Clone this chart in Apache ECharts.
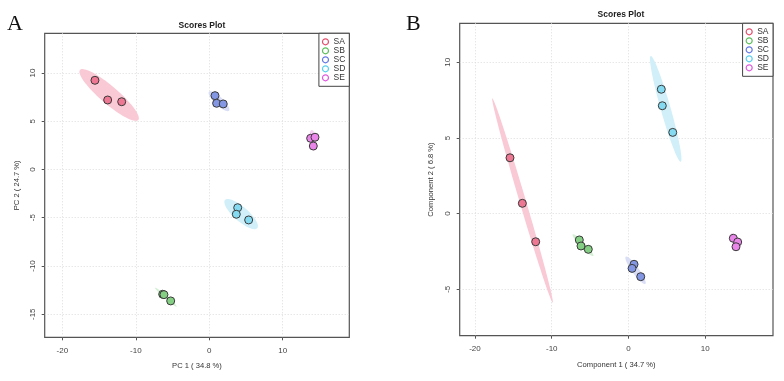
<!DOCTYPE html>
<html>
<head>
<meta charset="utf-8">
<script src="https://cdn.jsdelivr.net/npm/echarts@6/dist/echarts.min.js"></script>
<style>
  html, body { margin: 0; padding: 0; background: #fff; }
  #chart { width: 784px; height: 381px; }
</style>
</head>
<body>
<div id="chart"></div>
<script>
const groups = ['SA', 'SB', 'SC', 'SD', 'SE']

// panel A: PCA scores, [PC1, PC2] per sample, one list per group
const pcaScores = [
  [[-15.56, 9.24], [-13.83, 7.20], [-11.92, 7.02]],
  [[-6.34, -12.93], [-6.17, -12.97], [-5.25, -13.62]],
  [[0.78, 7.65], [1.00, 6.86], [1.90, 6.79]],
  [[3.87, -3.96], [3.68, -4.64], [5.36, -5.23]],
  [[13.80, 3.23], [14.39, 3.34], [14.16, 2.43]]
]
// confidence ellipses: major axis ends [x1, y1, x2, y2] + minor/major ratio
const pcaEllipses = [
  [-17.60, 10.31, -9.66, 5.13, 0.23],
  [-7.39, -12.25, -4.44, -14.21, 0.10],
  [-0.04, 8.06, 2.68, 6.09, 0.30],
  [2.14, -3.16, 6.53, -6.09, 0.33],
  [13.94, 4.09, 14.29, 1.95, 0.32]
]

// panel B: PLS-DA scores, [Component 1, Component 2]
const plsScores = [
  [[-15.44, 3.69], [-13.83, 0.68], [-12.09, -1.86]],
  [[-6.41, -1.74], [-6.19, -2.14], [-5.24, -2.36]],
  [[0.72, -3.35], [0.46, -3.62], [1.59, -4.17]],
  [[4.27, 8.22], [4.40, 7.13], [5.76, 5.37]],
  [[13.65, -1.63], [14.22, -1.88], [14.00, -2.19]]
]
const plsEllipses = [
  [-17.74, 7.62, -9.87, -5.89, 0.03],
  [-7.27, -1.37, -4.59, -2.80, 0.17],
  [-0.36, -2.85, 2.19, -4.65, 0.21],
  [2.89, 10.42, 6.80, 3.43, 0.09],
  [13.44, -1.30, 14.30, -2.41, 0.30]
]

const xTicks = [-20, -10, 0, 10]
const pcaYTicks = [-15, -10, -5, 0, 5, 10]
const plsYTicks = [-5, 0, 5, 10]

const pointColors = ['#ee7893', '#84cf84', '#8497e4', '#84daf0', '#ea86ea']
const ellipseColors = ['#f9c9d5', '#d5efd5', '#d9def6', '#d0eff9', '#f6d0f6']
const legendColors = ['#e5506e', '#5cbf5c', '#6479e6', '#58d0ee', '#df5ade']

const chart = echarts.init(document.getElementById('chart'))

const ellipseItem = (params, api) => {
  const p1 = api.coord([api.value(0), api.value(1)])
  const p2 = api.coord([api.value(2), api.value(3)])
  const ratio = api.value(4)
  const cx = (p1[0] + p2[0]) / 2
  const cy = (p1[1] + p2[1]) / 2
  const dx = (p2[0] - p1[0]) / 2
  const dy = (p2[1] - p1[1]) / 2
  const a = Math.hypot(dx, dy)
  const b = a * ratio
  const ux = dx / a
  const uy = dy / a
  const pts = []
  for (let i = 0; i < 90; i++) {
    const t = (i / 90) * Math.PI * 2
    pts.push([
      cx + a * Math.cos(t) * ux - b * Math.sin(t) * uy,
      cy + a * Math.cos(t) * uy + b * Math.sin(t) * ux
    ])
  }
  return { type: 'polygon', shape: { points: pts }, style: { fill: api.visual('color') } }
}

const panelSeries = (scores, ellipses, idx) => {
  const out = []
  groups.forEach((g, i) => {
    out.push({
      name: g, type: 'custom', xAxisIndex: idx, yAxisIndex: idx,
      renderItem: ellipseItem, silent: true, z: 1,
      itemStyle: { color: ellipseColors[i] },
      encode: { x: [0, 2], y: [1, 3] },
      data: [ellipses[i]]
    })
    out.push({
      name: g, type: 'scatter', xAxisIndex: idx, yAxisIndex: idx, z: 3,
      symbolSize: 8,
      itemStyle: { color: pointColors[i], borderColor: '#3a3a3a', borderWidth: 1, opacity: 1 },
      data: scores[i]
    })
  })
  return out
}

const labelFont = { fontFamily: 'Liberation Sans', fontSize: 8, color: '#444' }

const valueAxis = (idx, min, max, step, ticks, name, nameGap, isY) => ({
  type: 'value', gridIndex: idx, min, max,
  minInterval: step, maxInterval: step,
  name, nameLocation: 'middle', nameGap,
  nameTextStyle: { ...labelFont, fontSize: 7.6, color: '#333' },
  axisLine: { show: false, onZero: false },
  axisTick: { show: true, length: 3, customValues: ticks, lineStyle: { color: '#555' } },
  axisLabel: {
    ...labelFont, customValues: ticks, margin: isY ? 8 : 9,
    rotate: isY ? 90 : 0, showMinLabel: true, showMaxLabel: true
  },
  splitLine: { show: true, lineStyle: { color: '#dcdcdc', type: [1, 2], width: 1 } }
})

const legendFor = (right, top) => ({
  orient: 'vertical', right, top,
  icon: 'circle', itemWidth: 6, itemHeight: 6, itemGap: 0,
  padding: [4, 4, 4, 3],
  borderColor: '#444', borderWidth: 1, backgroundColor: '#fff',
  textStyle: { fontFamily: 'Liberation Sans', fontSize: 8.5, color: '#333', lineHeight: 8.3 },
  data: groups.map((g, i) => ({
    name: g,
    itemStyle: { color: '#fff', borderColor: legendColors[i], borderWidth: 1.2 }
  }))
})

const titleStyle = { fontFamily: 'Liberation Sans', fontSize: 8.5, fontWeight: 'bold', color: '#222' }
const letterStyle = { fontFamily: 'Liberation Serif', fontSize: 22, fontWeight: 'normal', color: '#111' }

chart.setOption({
  animation: false,
  title: [
    { text: 'A', left: 2, top: 8, textStyle: letterStyle },
    { text: 'B', left: 401, top: 8, textStyle: letterStyle },
    { text: 'Scores Plot', left: 197, top: 16, textAlign: 'center', textStyle: titleStyle },
    { text: 'Scores Plot', left: 616, top: 5, textAlign: 'center', textStyle: titleStyle }
  ],
  legend: [legendFor(434.7, 33.3), legendFor(11, 23.3)],
  grid: [
    { left: 44.7, top: 33.3, width: 304.6, height: 304, show: true, borderColor: '#555', borderWidth: 1.2, backgroundColor: '#fff' },
    { left: 459.7, top: 23.3, width: 313.3, height: 312.4, show: true, borderColor: '#555', borderWidth: 1.2, backgroundColor: '#fff' }
  ],
  xAxis: [
    valueAxis(0, -22.4, 19.06, 10, xTicks, 'PC 1 ( 34.8 %)', 25, false),
    valueAxis(1, -21.99, 18.82, 10, xTicks, 'Component 1 ( 34.7 %)', 25, false)
  ],
  yAxis: [
    valueAxis(0, -17.39, 14.11, 5, pcaYTicks, 'PC 2 ( 24.7 %)', 24, true),
    valueAxis(1, -8.07, 12.58, 5, plsYTicks, 'Component 2 ( 6.8 %)', 25, true)
  ],
  series: [
    ...panelSeries(pcaScores, pcaEllipses, 0),
    ...panelSeries(plsScores, plsEllipses, 1)
  ]
})

window.addEventListener('resize', () => chart.resize())
</script>
</body>
</html>
